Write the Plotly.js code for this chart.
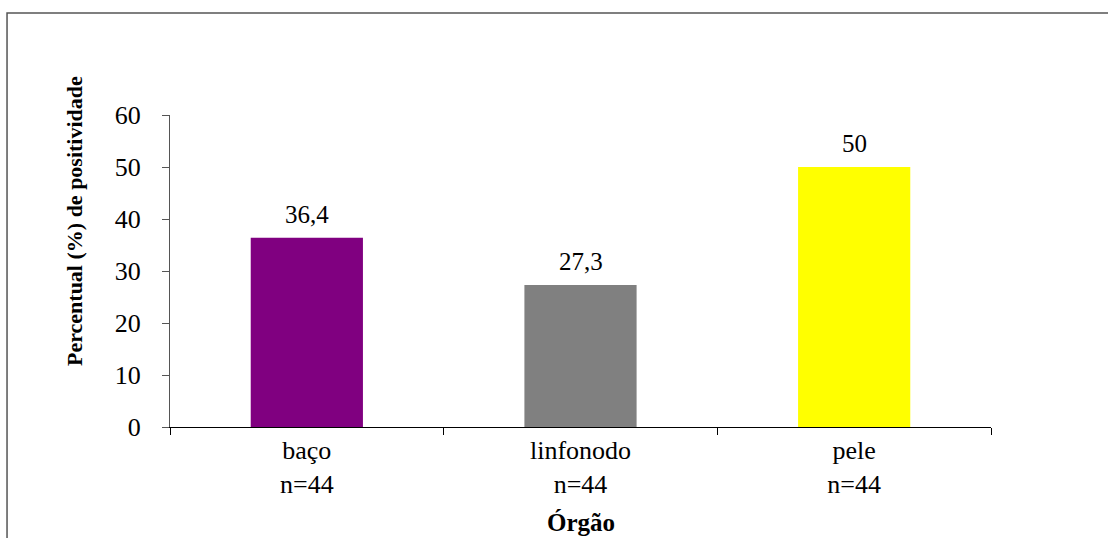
<!DOCTYPE html>
<html>
<head>
<meta charset="utf-8">
<script src="https://cdn.plot.ly/plotly-3.0.1.min.js"></script>
<style>html,body{margin:0;padding:0;background:#fff;}#chart{width:1108px;height:538px;}</style>
</head>
<body>
<div id="chart"></div>
<script>
const categories = ["baço", "linfonodo", "pele"];
const sampleSizes = ["n=44", "n=44", "n=44"];
const values = [36.4, 27.3, 50];
const barColors = ["#800080", "#808080", "#FFFF00"];
const yTicks = [0, 10, 20, 30, 40, 50, 60];
const yTitle = "Percentual (%) de positividade";
const xTitle = "Órgão";

const tickText = categories.map((c, i) => c + "<br>" + sampleSizes[i]);
const fmt = v => String(v).replace(".", ",");

const font = "Liberation Serif";

const trace = {
  type: "bar",
  x: categories,
  y: values,
  marker: {color: barColors, line: {width: 0}},
  width: 0.41,
  hoverinfo: "none"
};

const annotations = categories.map((c, i) => ({
  x: c, y: values[i], xref: "x", yref: "y",
  text: fmt(values[i]), showarrow: false,
  yanchor: "bottom", yshift: 8,
  font: {family: font, size: 25, color: "#000"}
}));
annotations.push({
  xref: "paper", yref: "paper", x: -0.117, y: 0.66,
  text: "<b>" + yTitle + "</b>", textangle: -90, showarrow: false,
  xanchor: "center", yanchor: "middle",
  font: {family: font, size: 22, color: "#000"}
});
annotations.push({
  xref: "paper", yref: "paper", x: 0.5, y: -0.356,
  text: "<b>" + xTitle + "</b>", showarrow: false,
  xanchor: "center", yanchor: "bottom",
  font: {family: font, size: 25, color: "#000"}
});

const layout = {
  width: 1108, height: 538,
  margin: {l: 170, r: 117, t: 115, b: 111, pad: 0},
  paper_bgcolor: "#fff", plot_bgcolor: "#fff",
  showlegend: false,
  bargap: 0.59,
  font: {family: font, size: 26, color: "#000"},
  xaxis: {
    type: "category",
    tickvals: categories, ticktext: tickText,
    showline: true, linecolor: "#000", linewidth: 1,
    ticks: "outside", tickson: "boundaries", ticklen: 7, tickcolor: "#000",
    showgrid: false, zeroline: false,
    tickfont: {family: font, size: 26, color: "#000"},
    fixedrange: true
  },
  yaxis: {
    range: [0, 60], tickvals: yTicks,
    showline: true, linecolor: "#555", linewidth: 1,
    ticks: "outside", ticklen: 7, tickcolor: "#555",
    showgrid: false, zeroline: false,
    ticklabelstandoff: 16,
    tickfont: {family: font, size: 26, color: "#000"},
    fixedrange: true
  },
  annotations: annotations,
  shapes: [{
    type: "path", xref: "paper", yref: "paper",
    path: "M -0.1985,-0.4 L -0.1985,1.3269 L 1.16,1.3269",
    line: {color: "#555", width: 1.5}
  }]
};

Plotly.newPlot("chart", [trace], layout, {displayModeBar: false, staticPlot: true});
</script>
</body>
</html>
